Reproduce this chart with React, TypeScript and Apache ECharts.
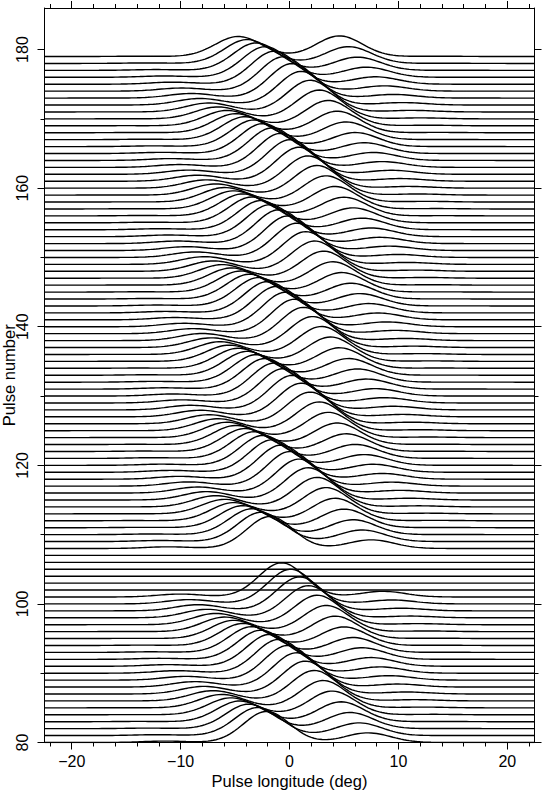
import React, { useEffect, useRef } from "react";
import * as echarts from "echarts";

// ---- Data ----
const firstPulse = 80;
const lastPulse = 179;
// Longitude (deg) of the leading drifting subpulse, pulses 80..101
const leadLower = [
  -2.1, -2.92, -3.74, -4.56, -5.38, -6.2, 2.28, 1.46, 0.64, -0.18, -1.0,
  -1.82, -2.64, -3.46, -4.28, -5.1, -5.92, 2.56, 1.74, 0.92, 0.1, -0.72,
];
// Null pulses (no emission)
const nullPulses = [102, 103, 104, 105, 106, 107];
// Longitude (deg) of the leading drifting subpulse, pulses 108..179
const leadUpper = [
  -1.8, -2.63, -3.45, -4.28, -5.11, -5.94, 2.54, 1.71, 0.88, 0.06, -0.77,
  -1.6, -2.42, -3.25, -4.08, -4.91, -5.73, 2.74, 1.91, 1.09, 0.26, -0.57,
  -1.39, -2.22, -3.05, -3.87, -4.7, -5.53, -6.36, 2.12, 1.29, 0.47, -0.36,
  -1.19, -2.01, -2.84, -3.67, -4.49, -5.32, -6.15, 2.33, 1.5, 0.67, -0.15,
  -0.98, -1.81, -2.64, -3.46, -4.29, -5.12, -5.94, 2.53, 1.7, 0.88, 0.05,
  -0.78, -1.6, -2.43, -3.26, -4.09, -4.91, -5.74, 2.73, 1.9, 1.08, 0.25,
  -0.58, -1.4, -2.23, -3.06, -3.88, -4.71,
];
const subpulseSpacing = 9.3; // P2 (deg)
const envelopePeak = 5.0; // pulse-number units
const envelopeWidth = 4.5; // deg (sigma)
const subpulseWidth = 2.1; // deg (sigma)

const xMajorTicks = [-20, -10, 0, 10, 20];
const xMinorTicks = [-22, -18, -16, -14, -12, -8, -6, -4, -2, 2, 4, 6, 8, 12, 14, 16, 18, 22];
const yMajorTicks = [80, 100, 120, 140, 160, 180];
const yMinorTicks = [90, 110, 130, 150, 170];

const X_MIN = -22.5;
const X_MAX = 22.5;
const Y_MIN = 80;
const Y_MAX = 186;

function leadFor(n: number): number | null {
  if (nullPulses.indexOf(n) >= 0) return null;
  if (n <= 101) return leadLower[n - firstPulse];
  return leadUpper[n - 108];
}

function buildSeries() {
  const xs: number[] = [];
  for (let i = 0; i <= 180; i++) xs.push(X_MIN + i * 0.25);
  const series: any[] = [];
  for (let n = lastPulse; n >= firstPulse; n--) {
    const lead = leadFor(n);
    const comps: { pos: number; amp: number }[] = [];
    if (lead !== null) {
      for (let k = -2; k <= 2; k++) {
        const pos = lead + k * subpulseSpacing;
        const amp = envelopePeak * Math.exp(-(pos * pos) / (2 * envelopeWidth * envelopeWidth));
        comps.push({ pos, amp });
      }
    }
    const data = xs.map((x) => {
      let v = 0;
      for (const c of comps) {
        const d = x - c.pos;
        v += c.amp * Math.exp(-(d * d) / (2 * subpulseWidth * subpulseWidth));
      }
      return [x, n + v];
    });
    series.push({
      type: "line",
      name: "pulse " + n,
      data,
      showSymbol: false,
      symbol: "none",
      silent: true,
      lineStyle: { color: "#000", width: 1.4 },
      areaStyle: { color: "#fff", opacity: 1, origin: "start" },
      z: 2,
    });
  }
  return series;
}

const FONT = "'Liberation Sans', Arial, Helvetica, sans-serif";
const lineStyle = { color: "#000", width: 1 };

export default function App() {
  const ref = useRef<HTMLDivElement>(null);
  useEffect(() => {
    document.body.style.margin = "0";
    const chart = echarts.init(ref.current!, null, { renderer: "svg" });
    const fmt = (v: number) => (v < 0 ? "\u2212" + Math.abs(v) : String(v));
    const xBase = { type: "value", min: X_MIN, max: X_MAX, splitLine: { show: false }, z: 10 };
    const yBase = { type: "value", min: Y_MIN, max: Y_MAX, splitLine: { show: false }, z: 10 };
    const xLine = { show: true, onZero: false, lineStyle };
    const yLine = { show: true, onZero: false, lineStyle };
    chart.setOption({
      animation: false,
      backgroundColor: "#fff",
      grid: { left: 44.5, top: 8, width: 490, height: 734.5, containLabel: false, outerBoundsMode: "none" },
      xAxis: [
        {
          ...xBase,
          position: "bottom",
          name: "Pulse longitude (deg)",
          nameLocation: "middle",
          nameGap: 30,
          nameMoveOverlap: false,
          nameTextStyle: { color: "#000", fontSize: 16.5, fontFamily: FONT },
          axisLine: xLine,
          axisTick: { show: true, customValues: xMajorTicks, length: 7, lineStyle },
          axisLabel: { show: true, customValues: xMajorTicks, formatter: fmt, margin: 11, color: "#000", fontSize: 16, fontFamily: FONT },
        },
        {
          ...xBase,
          position: "top",
          axisLine: xLine,
          axisTick: { show: true, customValues: xMajorTicks, length: 7, lineStyle },
          axisLabel: { show: false },
        },
        {
          ...xBase,
          position: "bottom",
          axisLine: { show: false, onZero: false },
          axisTick: { show: true, customValues: xMinorTicks, length: 4, lineStyle },
          axisLabel: { show: false },
        },
        {
          ...xBase,
          position: "top",
          axisLine: { show: false, onZero: false },
          axisTick: { show: true, customValues: xMinorTicks, length: 4, lineStyle },
          axisLabel: { show: false },
        },
      ],
      yAxis: [
        {
          ...yBase,
          position: "left",
          name: "Pulse number",
          nameLocation: "middle",
          nameGap: 27,
          nameMoveOverlap: false,
          nameTextStyle: { color: "#000", fontSize: 16.5, fontFamily: FONT },
          axisLine: yLine,
          axisTick: { show: true, customValues: yMajorTicks, length: 7, lineStyle },
          axisLabel: { show: true, customValues: yMajorTicks, rotate: 90, margin: 14, color: "#000", fontSize: 16, fontFamily: FONT },
        },
        {
          ...yBase,
          position: "right",
          axisLine: yLine,
          axisTick: { show: true, customValues: yMajorTicks, length: 7, lineStyle },
          axisLabel: { show: false },
        },
        {
          ...yBase,
          position: "left",
          axisLine: { show: false, onZero: false },
          axisTick: { show: true, customValues: yMinorTicks, length: 4, lineStyle },
          axisLabel: { show: false },
        },
        {
          ...yBase,
          position: "right",
          axisLine: { show: false, onZero: false },
          axisTick: { show: true, customValues: yMinorTicks, length: 4, lineStyle },
          axisLabel: { show: false },
        },
      ],
      series: buildSeries(),
    });
    return () => chart.dispose();
  }, []);
  return <div ref={ref} style={{ position: "fixed", left: 0, top: 0, width: 543, height: 797 }} />;
}
